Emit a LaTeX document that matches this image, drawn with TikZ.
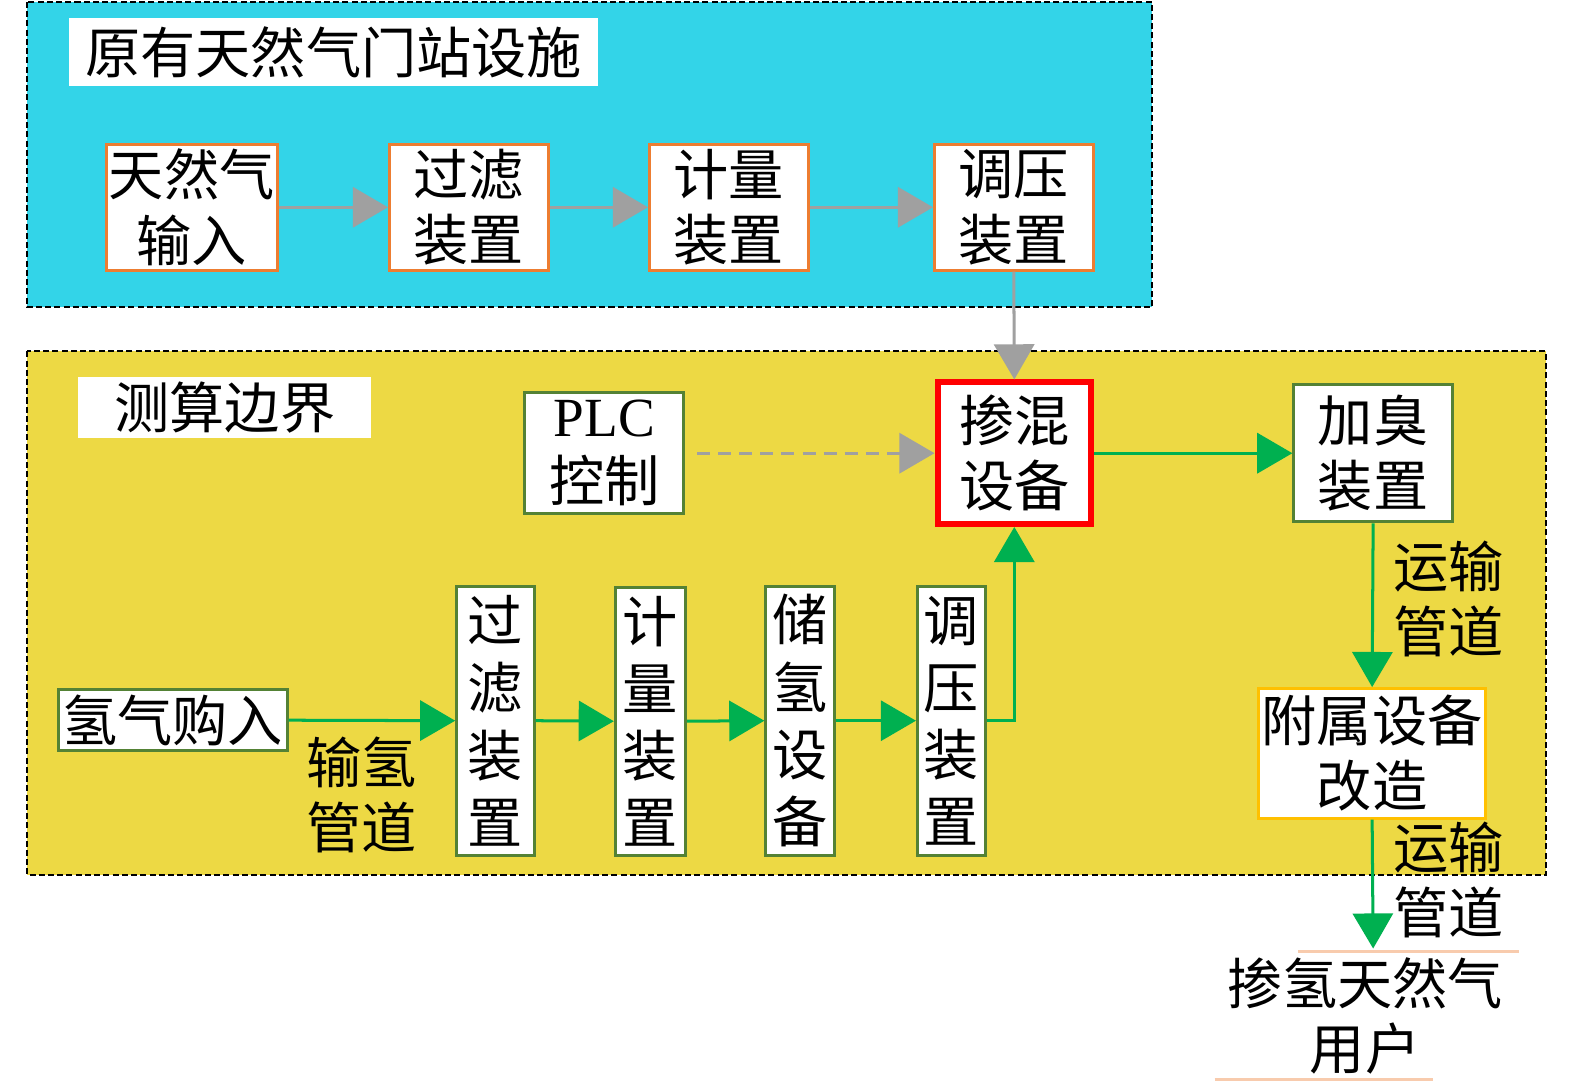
\documentclass[tikz,border=0pt]{standalone}
\usepackage{fontspec}
\setmainfont{Liberation Serif}
\newfontfamily\cjk{Noto Sans CJK SC}
\usetikzlibrary{arrows.meta}
\definecolor{cyanbg}{RGB}{51,212,232}
\definecolor{yellowbg}{RGB}{237,217,68}
\definecolor{obord}{RGB}{237,125,49}
\definecolor{gbord}{RGB}{84,130,53}
\definecolor{ybord}{RGB}{255,192,0}
\definecolor{arrgreen}{RGB}{0,176,80}
\definecolor{arrgray}{RGB}{160,160,160}
\definecolor{peach}{RGB}{248,203,173}
\tikzset{
  region/.style={draw=black, line width=0.9pt, dash pattern=on 3pt off 1.6pt},
  titlebox/.style={fill=white, inner sep=0pt, font=\cjk\fontsize{27.5}{32.5}\selectfont},
  box/.style={draw, fill=white, line width=1.5pt, inner sep=0pt, align=center,
    font=\cjk\fontsize{27.5}{32.5}\selectfont},
  vbox/.style={box, font=\cjk\fontsize{27.5}{33.5}\selectfont},
  obox/.style={box, draw=obord},
  gbox/.style={box, draw=gbord},
  gvbox/.style={vbox, draw=gbord},
  lbl/.style={inner sep=0pt, align=center, font=\cjk\fontsize{27.5}{32.5}\selectfont},
  garr/.style={draw=arrgray, line width=1.5pt, -{Triangle[length=17.5pt,width=20pt,fill=arrgray]}},
  grarr/.style={draw=arrgreen, line width=1.5pt, -{Triangle[length=17.5pt,width=20pt,fill=arrgreen]}},
}
\begin{document}
\begin{tikzpicture}[x=0.5pt,y=-0.5pt]
\useasboundingbox (0,0) rectangle (1569.1,1081);
\fill[white] (0,0) rectangle (1575,1085);

% regions
\path[region, fill=cyanbg] (27,2) rectangle (1148,306);
\path[region, fill=yellowbg] (27,350) rectangle (1540,872);

% titles
\node[titlebox, minimum width=263.5pt, minimum height=34pt] (t1) at (332.5,52) {原有天然气门站设施};
\node[titlebox, minimum width=146pt, minimum height=30pt] (t2) at (224,406) {测算边界};

% top row
\node[obox, minimum width=85pt, minimum height=62.5pt] (ngin) at (191,206.5) {天然气\\输入};
\node[obox, minimum width=79pt, minimum height=62.5pt] (flt) at (467,206.5) {过滤\\装置};
\node[obox, minimum width=79pt, minimum height=62.5pt] (met) at (726,206.5) {计量\\装置};
\node[obox, minimum width=79pt, minimum height=62.5pt] (reg) at (1010,206.5) {调压\\装置};

% middle row
\node[gbox, minimum width=79pt, minimum height=60.5pt, font=\fontsize{27.5}{32.5}\selectfont] (plc) at (602,451.5) {PLC\\{\cjk 控制}};
\node[box, draw=red, line width=3pt, minimum width=76.5pt, minimum height=70.5pt] (mix) at (1010.5,451.5) {掺混\\设备};
\node[gbox, minimum width=79pt, minimum height=68.5pt] (odor) at (1368,451.5) {加臭\\装置};
\node[box, draw=ybord, minimum width=113pt, minimum height=64.5pt] (aux) at (1367,750.5) {附属设备\\改造};

% bottom row
\node[gbox, minimum width=114pt, minimum height=30.5pt] (h2in) at (172,717.5) {氢气购入};
\node[gvbox, minimum width=38.5pt, minimum height=134pt] (hflt) at (493.5,718) {过\\滤\\装\\置};
\node[gvbox, minimum width=35pt, minimum height=133.5pt] (hmet) at (648,718.5) {计\\量\\装\\置};
\node[gvbox, minimum width=34pt, minimum height=134pt] (hsto) at (797,718) {储\\氢\\设\\备};
\node[gvbox, minimum width=34pt, minimum height=134pt] (hreg) at (948,718) {调\\压\\装\\置};

% labels
\node[lbl] (l1) at (360,792) {输氢\\管道};
\node[lbl] (l2) at (1443,597) {运输\\管道};
\node[lbl] (l3) at (1443,877) {运输\\管道};
\node[lbl] (user) at (1360,1012) {掺氢天然气\\用户};
\coordinate (userin) at (1368,945);
\coordinate (pa1) at (1293,948);
\coordinate (pa2) at (1513,948);
\coordinate (pb1) at (1210,1075);
\coordinate (pb2) at (1428,1075);
\draw[peach, line width=1.5pt] (pa1) -- (pa2);
\draw[peach, line width=1.5pt] (pb1) -- (pb2);

% gray arrows
\draw[garr] (ngin) -- (flt);
\draw[garr] (flt) -- (met);
\draw[garr] (met) -- (reg);
\draw[garr] (reg.south) -- (mix.north);
\draw[garr, dash pattern=on 6.5pt off 4pt, shorten <=6pt] (plc.east) -- (mix.west);

% green arrows
\draw[grarr] (mix.east) -- (odor.west);
\draw[grarr] (odor.south) -- (aux.north);
\draw[grarr] (aux.south) -- (userin);
\draw[grarr] (h2in.east) -- (hflt.west);
\draw[grarr] (hflt.east) -- (hmet.west);
\draw[grarr] (hmet.east) -- (hsto.west);
\draw[grarr] (hsto.east) -- (hreg.west);
\draw[grarr] (hreg.east) -| (mix.south);
\end{tikzpicture}
\end{document}
